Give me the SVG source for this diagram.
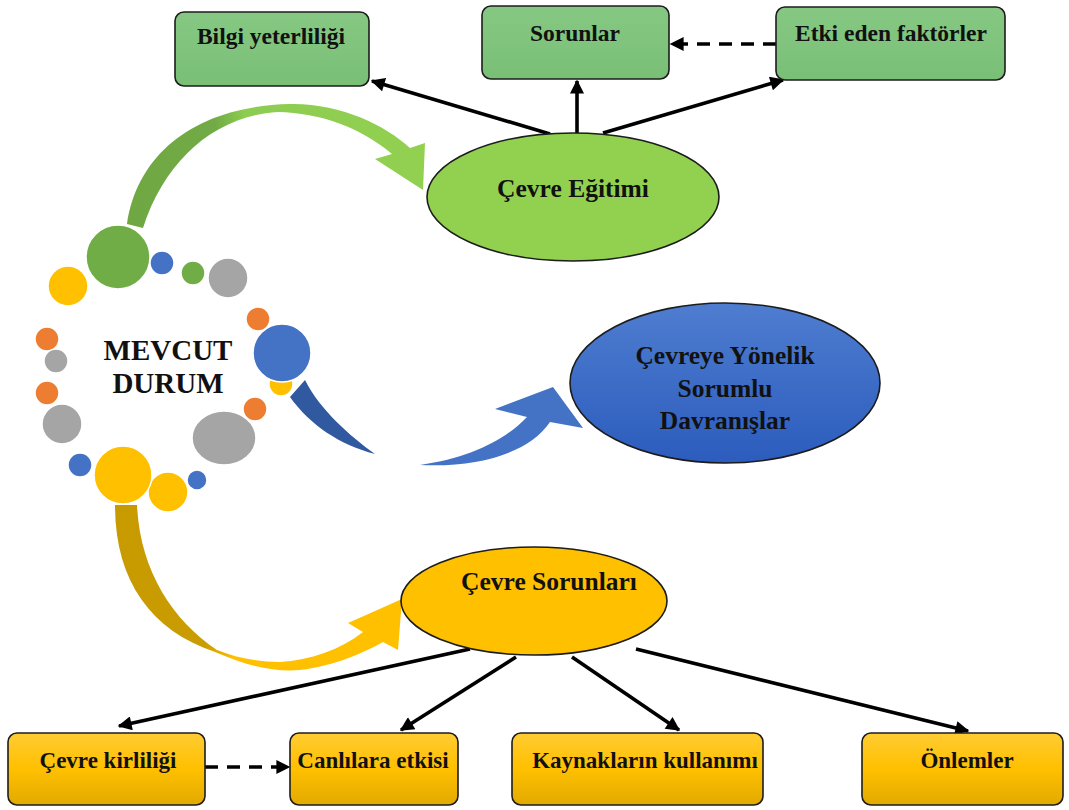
<svg xmlns="http://www.w3.org/2000/svg" width="1069" height="810" viewBox="0 0 1069 810">
  <style>
    .lbl { font-family: "Liberation Serif", "Times New Roman", serif; font-weight: bold; fill: #111; text-anchor: middle; }
    .box-g { fill: url(#gBox); stroke: #1c1c1c; stroke-width: 1.6; }
    .box-y { fill: url(#yBox); stroke: #1c1c1c; stroke-width: 1.6; }
    .conn { fill: none; stroke: #000; stroke-width: 3.6; }
    .dash { stroke-dasharray: 13 9; }
    .dot { stroke: #fff; stroke-width: 1.5; }
  </style>
  <defs>
    <marker id="head" viewBox="0 0 10 10" refX="9" refY="5" markerUnits="userSpaceOnUse" markerWidth="15" markerHeight="14" orient="auto">
      <path d="M0,0 L10,5 L0,10 z" fill="#000"/>
    </marker>
    <linearGradient id="gBox" x1="0" y1="0" x2="0" y2="1">
      <stop offset="0" stop-color="#86c883"/>
      <stop offset="1" stop-color="#79bf76"/>
    </linearGradient>
    <linearGradient id="yBox" x1="0" y1="0" x2="0" y2="1">
      <stop offset="0" stop-color="#ffcc33"/>
      <stop offset="0.5" stop-color="#ffc000"/>
      <stop offset="1" stop-color="#e2aa00"/>
    </linearGradient>
    <linearGradient id="bEll" x1="0" y1="0" x2="0" y2="1">
      <stop offset="0" stop-color="#4e7dd0"/>
      <stop offset="1" stop-color="#2c5cbd"/>
    </linearGradient>
    <linearGradient id="gSwoosh" x1="120" y1="200" x2="420" y2="150" gradientUnits="userSpaceOnUse">
      <stop offset="0" stop-color="#6fa843"/>
      <stop offset="0.35" stop-color="#72ab46"/>
      <stop offset="0.45" stop-color="#8ccc50"/>
      <stop offset="1" stop-color="#92d050"/>
    </linearGradient>
    <linearGradient id="ySwoosh" x1="115" y1="505" x2="400" y2="650" gradientUnits="userSpaceOnUse">
      <stop offset="0" stop-color="#c79a00"/>
      <stop offset="0.45" stop-color="#c99c00"/>
      <stop offset="0.55" stop-color="#ffc000"/>
      <stop offset="1" stop-color="#ffc000"/>
    </linearGradient>
  </defs>

  <!-- curved flow arrows out of the central cluster -->
  <g id="swooshes">
    <path d="M127,224 C138,150 200,106 290,104 C340,103 385,125 410,148 L425,143 L423,190 L375,159 L392,154 C360,127 320,113 278,112 C215,116 165,160 143,228 Z" fill="url(#gSwoosh)"/>
    <path d="M290,397 C310,425 340,445 375,454 C350,436 320,410 305,380 Z" fill="#30599f"/>
    <path d="M420,465 C470,458 505,440 527,417 L495,409 L553,387 L583,428 L550,422 C530,452 480,468 420,465 Z" fill="#4472c4"/>
    <path d="M115,505 C115,580 150,630 215,652 C250,667 275,672 300,670 C335,666 365,652 383,642 L398,650 L402,599 L348,623 L363,632 C340,650 310,660 280,662 C255,662 235,657 217,650 C172,620 140,570 137,505 Z" fill="url(#ySwoosh)"/>
  </g>

  <!-- central cluster of dots -->
  <g id="mevcut-durum">
    <circle class="dot" cx="68" cy="286" r="20" fill="#ffc000"/>
    <circle class="dot" cx="118" cy="257" r="32" fill="#70ad47"/>
    <circle class="dot" cx="162" cy="263" r="12" fill="#4472c4"/>
    <circle class="dot" cx="193" cy="273" r="12" fill="#70ad47"/>
    <circle class="dot" cx="228" cy="278" r="20" fill="#a5a5a5"/>
    <circle class="dot" cx="258" cy="319" r="12" fill="#ed7d31"/>
    <circle class="dot" cx="281" cy="384" r="12" fill="#ffc000"/>
    <circle class="dot" cx="282" cy="353" r="29" fill="#4472c4"/>
    <circle class="dot" cx="47" cy="339" r="12" fill="#ed7d31"/>
    <circle class="dot" cx="56" cy="361" r="12" fill="#a5a5a5"/>
    <circle class="dot" cx="47" cy="393" r="12" fill="#ed7d31"/>
    <circle class="dot" cx="62" cy="424" r="20" fill="#a5a5a5"/>
    <circle class="dot" cx="255" cy="409" r="12" fill="#ed7d31"/>
    <ellipse class="dot" cx="224" cy="438" rx="32" ry="27" fill="#a5a5a5"/>
    <circle class="dot" cx="80" cy="465" r="12" fill="#4472c4"/>
    <circle class="dot" cx="197" cy="480" r="10" fill="#4472c4"/>
    <circle class="dot" cx="168" cy="492" r="20" fill="#ffc000"/>
    <circle class="dot" cx="123" cy="475" r="29" fill="#ffc000"/>
    <text class="lbl" x="168" y="360" font-size="29">MEVCUT</text>
    <text class="lbl" x="168" y="393" font-size="29">DURUM</text>
  </g>

  <!-- connectors -->
  <g id="connectors">
    <line class="conn" x1="550" y1="134" x2="372" y2="81" marker-end="url(#head)"/>
    <line class="conn" x1="577" y1="133" x2="577" y2="81" marker-end="url(#head)"/>
    <line class="conn" x1="603" y1="133" x2="783" y2="80" marker-end="url(#head)"/>
    <line class="conn dash" x1="776" y1="44" x2="671" y2="44" marker-end="url(#head)"/>
    <line class="conn" x1="470" y1="649" x2="119" y2="726" marker-end="url(#head)"/>
    <line class="conn" x1="516" y1="657" x2="401" y2="730" marker-end="url(#head)"/>
    <line class="conn" x1="572" y1="657" x2="679" y2="730" marker-end="url(#head)"/>
    <line class="conn" x1="636" y1="649" x2="968" y2="731" marker-end="url(#head)"/>
    <line class="conn dash" x1="205" y1="767" x2="289" y2="767" marker-end="url(#head)"/>
  </g>

  <!-- top row -->
  <g id="bilgi-yeterliligi">
    <rect class="box-g" x="175" y="12" width="194" height="74" rx="9"/>
    <text class="lbl" x="271" y="44" font-size="23.5">Bilgi yeterliliği</text>
  </g>
  <g id="sorunlar">
    <rect class="box-g" x="482" y="6" width="187" height="73" rx="9"/>
    <text class="lbl" x="575" y="41" font-size="23.5">Sorunlar</text>
  </g>
  <g id="etki-eden-faktorler">
    <rect class="box-g" x="776" y="7" width="229" height="73" rx="9"/>
    <text class="lbl" x="891" y="41" font-size="23.5">Etki eden faktörler</text>
  </g>

  <!-- central nodes -->
  <g id="cevre-egitimi">
    <ellipse cx="573" cy="197" rx="146" ry="64" fill="#92d050" stroke="#1c1c1c" stroke-width="1.6"/>
    <text class="lbl" x="573" y="197" font-size="25.5">Çevre Eğitimi</text>
  </g>
  <g id="sorumlu-davranislar">
    <ellipse cx="725" cy="383" rx="155" ry="80" fill="url(#bEll)" stroke="#1c1c1c" stroke-width="1.6"/>
    <text class="lbl" x="725" y="364" font-size="25.5">Çevreye Yönelik</text>
    <text class="lbl" x="725" y="397" font-size="25.5">Sorumlu</text>
    <text class="lbl" x="725" y="429" font-size="25.5">Davranışlar</text>
  </g>
  <g id="cevre-sorunlari">
    <ellipse cx="534" cy="601" rx="133" ry="54" fill="#ffc000" stroke="#1c1c1c" stroke-width="1.6"/>
    <text class="lbl" x="549" y="590" font-size="25.5">Çevre Sorunları</text>
  </g>

  <!-- bottom row -->
  <g id="cevre-kirliligi">
    <rect class="box-y" x="8" y="733" width="197" height="72" rx="9"/>
    <text class="lbl" x="108" y="768" font-size="23">Çevre kirliliği</text>
  </g>
  <g id="canlilara-etkisi">
    <rect class="box-y" x="290" y="733" width="168" height="72" rx="9"/>
    <text class="lbl" x="373" y="768" font-size="23">Canlılara etkisi</text>
  </g>
  <g id="kaynaklarin-kullanimi">
    <rect class="box-y" x="512" y="733" width="251" height="72" rx="9"/>
    <text class="lbl" x="645" y="768" font-size="23">Kaynakların kullanımı</text>
  </g>
  <g id="onlemler">
    <rect class="box-y" x="862" y="733" width="201" height="72" rx="9"/>
    <text class="lbl" x="967" y="768" font-size="23">Önlemler</text>
  </g>
</svg>
